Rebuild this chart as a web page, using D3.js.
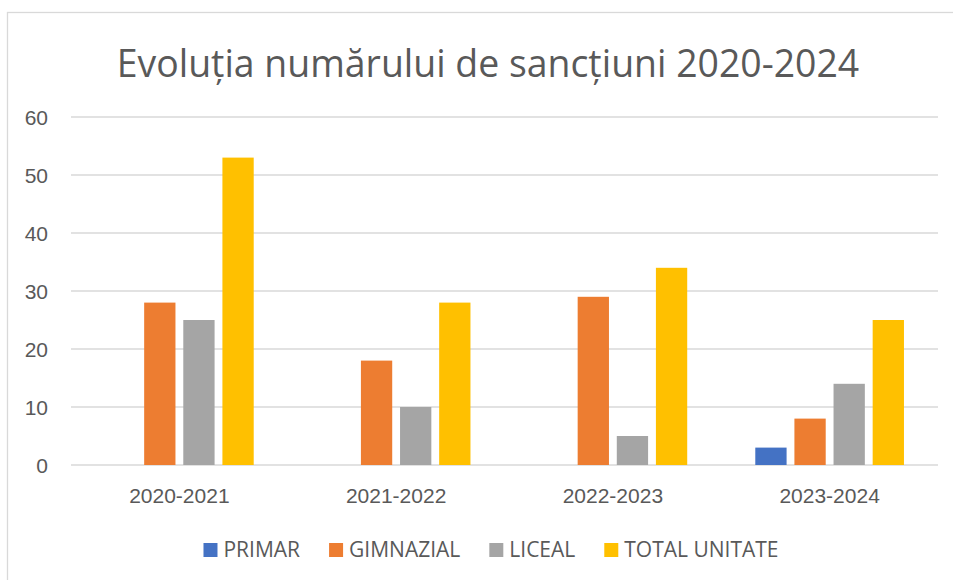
<!DOCTYPE html>
<html lang="ro">
<head>
<meta charset="utf-8">
<title>Evoluția numărului de sancțiuni 2020-2024</title>
<script src="https://cdn.jsdelivr.net/npm/d3@7"></script>
<style>
    body { margin: 0; background: #fff; }
    svg { display: block; font-family: 'Open Sans', sans-serif; }
    .grid line { stroke: #d9d9d9; stroke-width: 1.3px; }
    .axis text { fill: #595959; }
</style>
</head>
<body>
<script>
    // data
    var categories = ['2020-2021', '2021-2022', '2022-2023', '2023-2024'];
    var series = ['PRIMAR', 'GIMNAZIAL', 'LICEAL', 'TOTAL UNITATE'];
    var primar = [0, 0, 0, 3];
    var gimnazial = [28, 18, 29, 8];
    var liceal = [25, 10, 5, 14];
    var totalUnitate = [53, 28, 34, 25];
    var yTicks = [0, 10, 20, 30, 40, 50, 60];
    var colors = ['#4472c4', '#ed7d31', '#a5a5a5', '#ffc000'];

    var values = [primar, gimnazial, liceal, totalUnitate];
    var rows = categories.map(function(c, i) {
        return {cat: c, vals: series.map(function(s, j) { return {key: s, idx: j, v: values[j][i]}; })};
    });

    var width = 953, height = 580;
    var plot = {left: 71, right: 938, top: 117, bottom: 465};

    var svg = d3.select('body').append('svg')
        .attr('width', width)
        .attr('height', height);

    // chart frame (runs past the right/bottom edge in the reference)
    svg.append('rect')
        .attr('x', 7.5).attr('y', 12.5)
        .attr('width', 980).attr('height', 600)
        .attr('fill', '#fff')
        .attr('stroke', '#d9d9d9')
        .attr('stroke-width', 1.3);

    svg.append('text')
        .attr('x', 488)
        .attr('y', 77)
        .attr('text-anchor', 'middle')
        .style('font-size', '37.4px')
        .style('fill', '#595959')
        .text('Evoluția numărului de sancțiuni 2020-2024');

    var x0 = d3.scaleBand()
        .domain(categories)
        .range([plot.left, plot.right]);

    var x1 = d3.scaleBand()
        .domain(series)
        .range([0, x0.bandwidth()])
        .paddingInner(0.2)
        .paddingOuter(0.87);

    var y = d3.scaleLinear()
        .domain([0, 60])
        .range([plot.bottom, plot.top]);

    svg.append('g')
        .attr('class', 'grid')
        .selectAll('line')
        .data(yTicks)
        .enter()
        .append('line')
        .attr('x1', plot.left)
        .attr('x2', plot.right)
        .attr('y1', function(d) { return y(d); })
        .attr('y2', function(d) { return y(d); });

    var yAxis = d3.axisLeft(y).tickValues(yTicks).tickSize(0).tickPadding(0);
    svg.append('g')
        .attr('class', 'axis')
        .attr('transform', 'translate(48,0)')
        .call(yAxis)
        .call(function(g) { g.select('.domain').remove(); })
        .selectAll('text')
        .style('font-size', '21px')
        .attr('dy', '0.35em');

    var xAxis = d3.axisBottom(x0).tickSize(0).tickPadding(0);
    svg.append('g')
        .attr('class', 'axis')
        .attr('transform', 'translate(0,' + 503 + ')')
        .call(xAxis)
        .call(function(g) { g.select('.domain').remove(); })
        .selectAll('text')
        .style('font-size', '21px')
        .attr('y', 0)
        .attr('dy', 0);

    var groups = svg.append('g')
        .selectAll('g')
        .data(rows)
        .enter()
        .append('g')
        .attr('transform', function(d) { return 'translate(' + x0(d.cat) + ',0)'; });

    groups.selectAll('rect')
        .data(function(d) { return d.vals.filter(function(v) { return v.v > 0; }); })
        .enter()
        .append('rect')
        .attr('x', function(d) { return x1(d.key); })
        .attr('width', x1.bandwidth())
        .attr('y', function(d) { return y(d.v); })
        .attr('height', function(d) { return y(0) - y(d.v); })
        .attr('fill', function(d) { return colors[d.idx]; });

    // legend, laid out from measured text widths and centred
    var legend = svg.append('g');
    var items = legend.selectAll('g')
        .data(series)
        .enter()
        .append('g');
    items.append('rect')
        .attr('width', 14).attr('height', 14)
        .attr('y', -14)
        .attr('fill', function(d, i) { return colors[i]; });
    items.append('text')
        .attr('x', 20)
        .style('font-size', '21px')
        .style('fill', '#595959')
        .text(function(d) { return d; });

    var xPos = 0, gap = 29;
    items.each(function() {
        var w = d3.select(this).select('text').node().getComputedTextLength() + 20;
        d3.select(this).attr('transform', 'translate(' + xPos + ',0)');
        xPos += w + gap;
    });
    var total = xPos - gap;
    legend.attr('transform', 'translate(' + (491 - total / 2) + ',' + 557 + ')');
</script>
</body>
</html>
